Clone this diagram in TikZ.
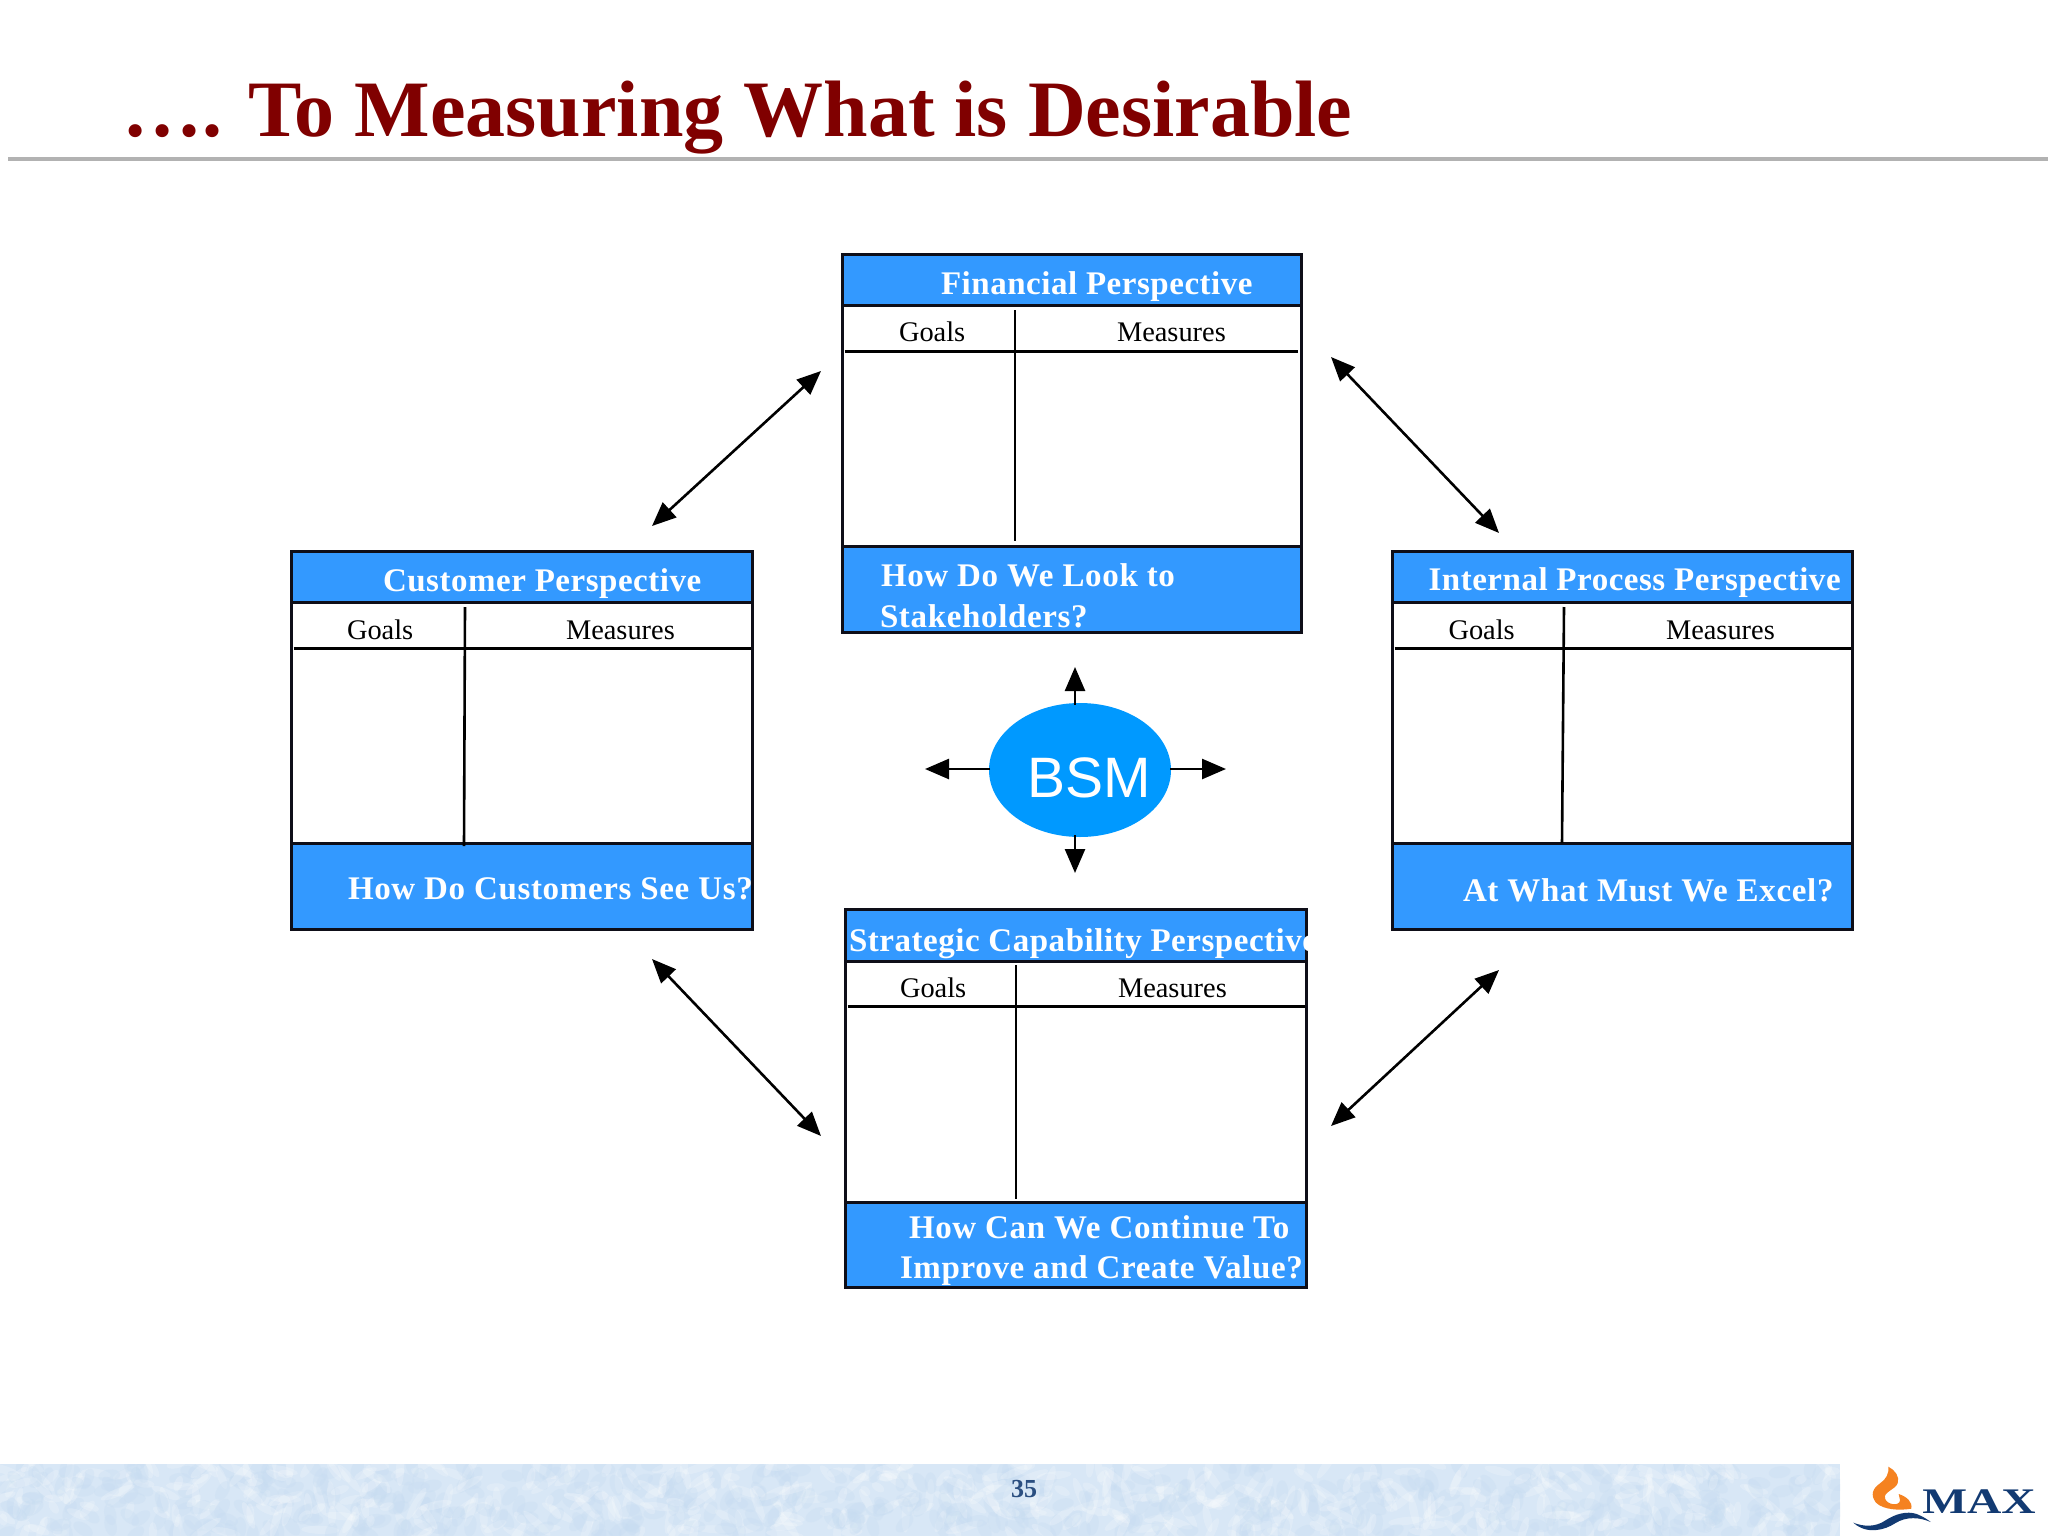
\documentclass[tikz,border=0pt]{standalone}
\usepackage{fontspec}
\setmainfont{Liberation Serif}
\newfontfamily\boldsp[LetterSpace=1.6]{Liberation Serif Bold}
\newfontfamily\boldft[LetterSpace=2.0]{Liberation Serif Bold}
\newfontfamily\arialf{Liberation Sans}
\usetikzlibrary{arrows.meta,shapes.geometric,calc}
\definecolor{panelblue}{HTML}{3399FF}
\definecolor{bsmblue}{HTML}{0099FF}
\definecolor{titlered}{HTML}{800000}
\definecolor{bandblue}{HTML}{D8E7F6}
\definecolor{bandmid}{HTML}{C6DCF1}
\definecolor{navy}{HTML}{123A72}
\definecolor{flame}{HTML}{F58220}
\definecolor{frameblack}{HTML}{0E0E18}
\tikzset{
  txt/.style={anchor=base west,inner sep=0pt,outer sep=0pt},
  headtxt/.style={txt,text=white,font=\boldsp\fontsize{33}{33}\selectfont},
  foottxt/.style={txt,text=white,font=\boldft\fontsize{33}{33}\selectfont},
  coltxt/.style={txt,text=black,font=\fontsize{28.4}{28.4}\selectfont},
  framebox/.style={rectangle,minimum height=378pt,inner sep=0pt,outer sep=0pt,fill=white},
  frameline/.style={draw=frameblack,line width=3pt},
  gridline/.style={draw=black,line width=2.6pt},
  biarrow/.style={draw=black,line width=2.6pt,{Triangle[length=24pt,width=20pt]}-{Triangle[length=24pt,width=20pt]}},
  onearrow/.style={draw=black,line width=2.6pt,-{Triangle[length=24pt,width=20pt]}},
}
\newcommand{\panelbox}[9]{%
  % name, cx, cy, width, head h, foot h, vtop x, vbot x, vbot y
  \node[framebox,minimum width=#4pt] (#1) at (#2,#3) {};
  \fill[panelblue] (#1.north west) rectangle ([yshift=-#5pt]#1.north east);
  \fill[panelblue] (#1.south west) rectangle ([yshift=#6pt]#1.south east);
  \path[frameline] ([yshift=-#5pt]#1.north west) -- ([yshift=-#5pt]#1.north east);
  \path[frameline] ([yshift=#6pt]#1.south west) -- ([yshift=#6pt]#1.south east);
  \path[gridline] ([xshift=2pt,yshift=-97pt]#1.north west) -- ([xshift=-\rulegap pt,yshift=-97pt]#1.north east);
  \path[gridline] (#7,#3-133.5) -- (#8,#9);
  \path[frameline] (#1.north west) rectangle (#1.south east);
}
\begin{document}
\begin{tikzpicture}[x=1pt,y=-1pt]
\useasboundingbox (0,0) rectangle (2048,1536);
\fill[white] (0,0) rectangle (2048,1536);
% title
\node[txt,text=titlered,font=\fontsize{80}{80}\selectfont\bfseries] (title) at (122,136) {…. To Measuring What is Desirable};
\coordinate (ruleL) at (8,159);
\coordinate (ruleR) at (2048,159);
\draw[color=black!30,line width=3.4pt] (ruleL) -- (ruleR);
% footer band
\begin{scope}
\clip (0,1464) rectangle (1840,1536);
\fill[bandblue] (0,1464) rectangle (1840,1536);
\pgfmathsetseed{11}
\foreach \i in {1,...,520}{
  \pgfmathsetmacro{\px}{rnd*1840}
  \pgfmathsetmacro{\py}{1464+rnd*72}
  \pgfmathsetmacro{\pa}{rnd*180}
  \pgfmathsetmacro{\pl}{6+rnd*14}
  \fill[white,opacity=.2,rotate around={\pa:(\px,\py)}] (\px,\py) ellipse ({\pl pt} and 4pt);
  \pgfmathsetmacro{\qx}{rnd*1840}
  \pgfmathsetmacro{\qy}{1464+rnd*72}
  \pgfmathsetmacro{\qa}{rnd*180}
  \fill[bandmid,opacity=.3,rotate around={\qa:(\qx,\qy)}] (\qx,\qy) ellipse (11pt and 6pt);
}
\end{scope}
\node[anchor=center,inner sep=0pt,text=navy!90,font=\fontsize{26}{26}\selectfont\bfseries] (pagenum) at (1024,1489) {35};
% logo
\begin{scope}[shift={(1800,1420)},x=.33333pt,y=-.33333pt]
\fill[flame] (265,140) .. controls (285,150) and (300,170) .. (293,190)
  .. controls (285,210) and (250,215) .. (255,235)
  .. controls (260,255) and (300,260) .. (300,240)
  .. controls (300,232) and (298,228) .. (296,222)
  .. controls (320,230) and (338,245) .. (334,266)
  .. controls (300,272) and (250,270) .. (228,248)
  .. controls (210,225) and (218,205) .. (240,190)
  .. controls (258,178) and (268,160) .. (265,140) -- cycle;
\fill[navy] (160,308) .. controls (190,320) and (225,322) .. (255,302)
  .. controls (285,282) and (320,272) .. (350,282)
  .. controls (370,290) and (382,298) .. (392,306)
  .. controls (360,292) and (320,288) .. (285,310)
  .. controls (255,330) and (200,345) .. (160,308) -- cycle;
\end{scope}
\node[anchor=base west,inner sep=0pt,text=navy,font=\fontsize{36}{36}\selectfont\bfseries,xscale=1.32] (maxlogo) at (1922,1513) {MAX};
% panels
\def\rulegap{3.5}
\panelbox{fin}{1072}{443.5}{459}{51}{86}{1015}{1015}{541}
\def\rulegap{0}
\panelbox{cus}{522}{740.5}{461}{51}{86}{465}{464}{846}
\panelbox{int}{1622.5}{740.5}{460}{51}{86}{1564}{1562}{843}
\def\rulegap{1.5}
\panelbox{str}{1076}{1098.5}{461}{52}{85}{1016}{1016}{1199}
% panel text
\node[headtxt] (finH) at (941,294.5) {Financial Perspective};
\node[coltxt] (finG) at (899,341) {Goals};
\node[coltxt] (finM) at (1117,341) {Measures};
\node[foottxt] (finF1) at (881,586) {How Do We Look to};
\node[foottxt] (finF2) at (880,627) {Stakeholders?};
\node[headtxt] (cusH) at (383,591) {Customer Perspective};
\node[coltxt] (cusG) at (347,639) {Goals};
\node[coltxt] (cusM) at (566,639) {Measures};
\node[foottxt] (cusF) at (348,899.5) {How Do Customers See Us?};
\node[headtxt] (intH) at (1428.5,590) {Internal Process Perspective};
\node[coltxt] (intG) at (1448.5,639) {Goals};
\node[coltxt] (intM) at (1666,639) {Measures};
\node[foottxt] (intF) at (1463,901) {At What Must We Excel?};
\node[headtxt] (strH) at (849,951) {Strategic Capability Perspective};
\node[coltxt] (strG) at (900,997) {Goals};
\node[coltxt] (strM) at (1118,997) {Measures};
\node[foottxt] (strF1) at (909,1238) {How Can We Continue To};
\node[foottxt] (strF2) at (900,1278) {Improve and Create Value?};
% BSM
\node[ellipse,fill=bsmblue,minimum width=182pt,minimum height=134pt,inner sep=0pt,outer sep=0pt] (bsm) at (1080,770) {};
\node[anchor=base west,inner sep=0pt,text=white,font=\arialf\fontsize{57}{57}\selectfont] (bsmT) at (1027.5,797) {BSM};
\coordinate (tipU) at (1075,667);
\coordinate (tipD) at (1075,873);
\coordinate (tipL) at (925,769);
\coordinate (tipR) at (1226,769);
\coordinate (rootU) at (1075,705);
\coordinate (rootD) at (1075,835);
\coordinate (rootL) at (990,769);
\coordinate (rootR) at (1170,769);
\draw[onearrow] (rootU) -- (tipU);
\draw[onearrow] (rootD) -- (tipD);
\draw[onearrow] (rootL) -- (tipL);
\draw[onearrow] (rootR) -- (tipR);
% diagonal arrows
\coordinate (a1) at (652,526);
\coordinate (a2) at (821,371);
\coordinate (b1) at (1331,357);
\coordinate (b2) at (1499,533);
\coordinate (c1) at (652,959);
\coordinate (c2) at (821,1136);
\coordinate (d1) at (1331,1126);
\coordinate (d2) at (1499,970);
\draw[biarrow] (a1) -- (a2);
\draw[biarrow] (b1) -- (b2);
\draw[biarrow] (c1) -- (c2);
\draw[biarrow] (d1) -- (d2);
\end{tikzpicture}
\end{document}
